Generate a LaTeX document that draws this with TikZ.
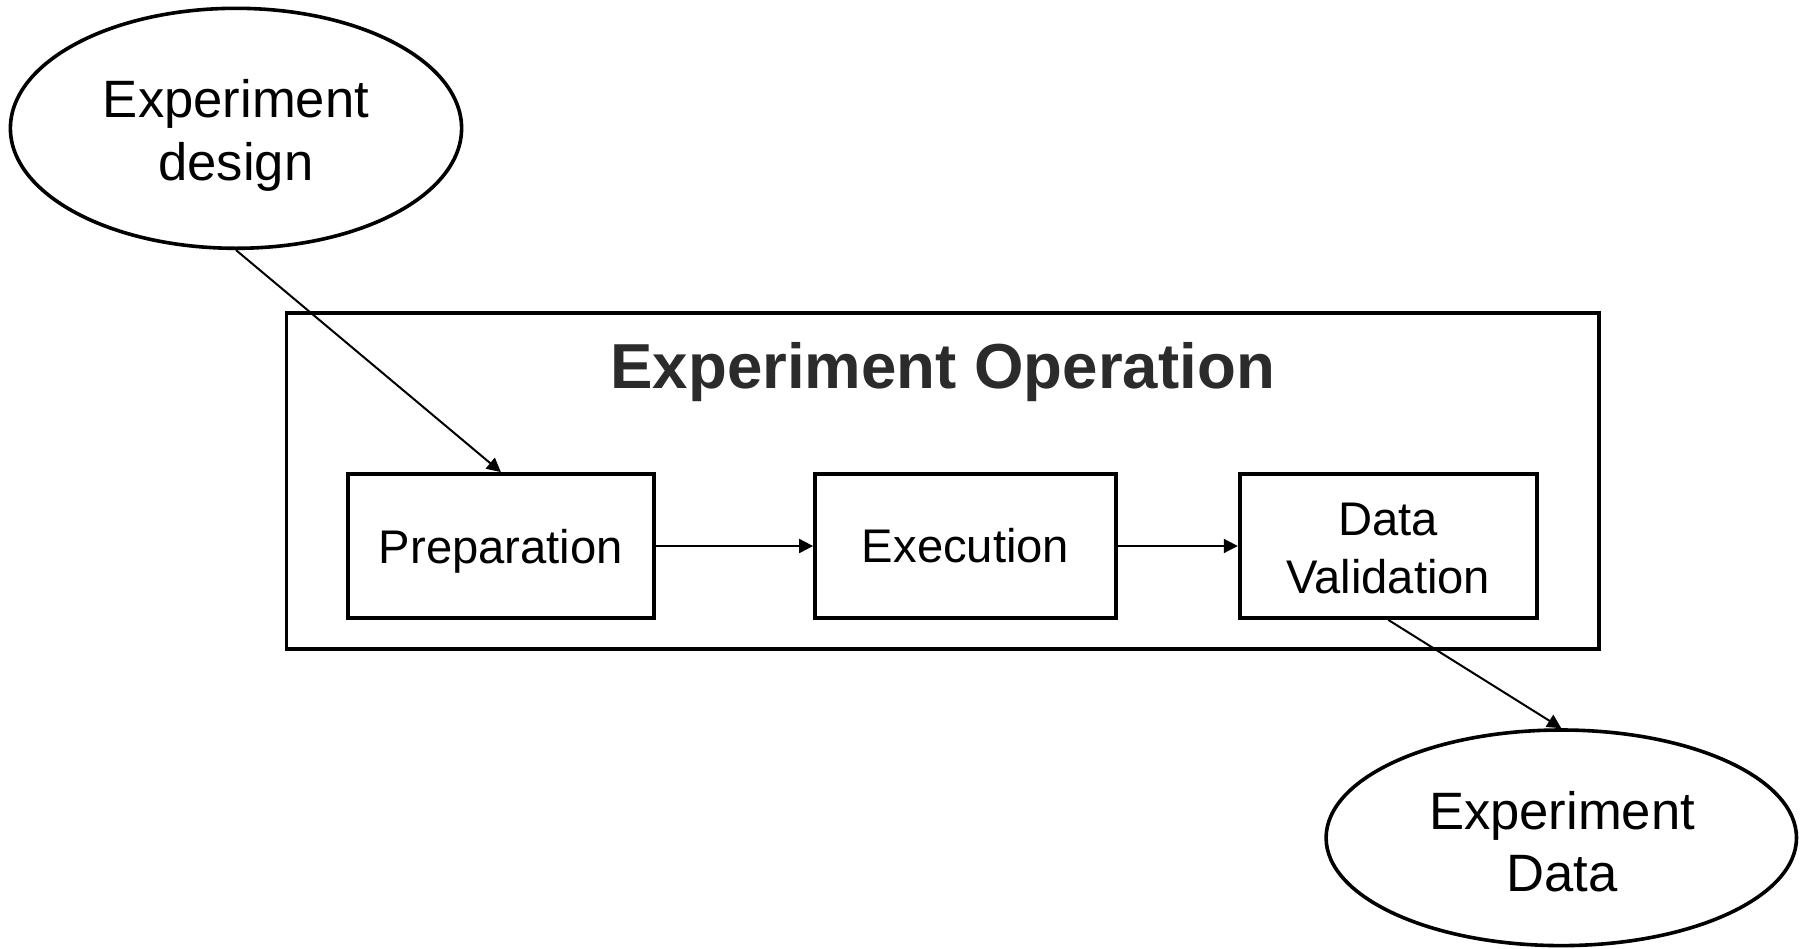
\documentclass[tikz,border=0pt]{standalone}
\usepackage{fontspec}
\setmainfont{Liberation Sans}
\usetikzlibrary{shapes.geometric,arrows.meta}
\definecolor{titlegray}{HTML}{2B2B2B}
\tikzset{
  ell/.style={draw, ellipse, line width=1.8pt, inner sep=0pt},
  elltext/.style={align=center, inner sep=0pt, font=\fontsize{26.3pt}{31.3pt}\selectfont},
  stepbox/.style={draw, rectangle, line width=1.9pt, inner sep=0pt, minimum height=72pt,
    align=center, font=\fontsize{23.6pt}{28.6pt}\selectfont},
  outerbox/.style={draw, rectangle, line width=1.9pt, inner sep=0pt},
  titletext/.style={inner sep=0pt, text=titlegray, font=\fontsize{31.8pt}{36pt}\selectfont\bfseries},
  conn/.style={line width=1pt, -{Triangle[length=7pt, width=7pt]}}
}
\begin{document}
\begin{tikzpicture}[x=0.5pt, y=-0.5pt]
\useasboundingbox (0,0) rectangle (1810,948);
% outer box
\node[outerbox, minimum width=656.3pt, minimum height=168.2pt] (op) at (942.7,481) {};
\node[titletext] (title) at (942.7,372.5) {Experiment Operation};
% ellipses
\node[ell, minimum width=225.6pt, minimum height=120pt] (e1) at (236,128.3) {};
\node[elltext] (e1t) at (236,135.5) {Experiment\\design};
\node[ell, minimum width=235.2pt, minimum height=107.8pt] (e2) at (1561.3,837.8) {};
\node[elltext] (e2t) at (1562,841.5) {Experiment\\Data};
% steps
\node[stepbox, minimum width=153pt, text depth=0pt] (prep) at (500.9,546) {Preparation};
\node[stepbox, minimum width=150.6pt] (exec) at (965.6,546) {Execution};
\node[stepbox, minimum width=148.6pt] (dv) at (1388.3,546) {};
\node[align=center, inner sep=0pt, font=\fontsize{23.6pt}{28.6pt}\selectfont] (dvt) at (1388.3,548.5) {Data\\Validation};
% connectors
\draw[conn] (e1.south) -- (prep.north);
\draw[conn] (prep.east) -- (exec.west);
\draw[conn] (exec.east) -- (dv.west);
\draw[conn] (dv.south) -- (e2.north);
\end{tikzpicture}
\end{document}
